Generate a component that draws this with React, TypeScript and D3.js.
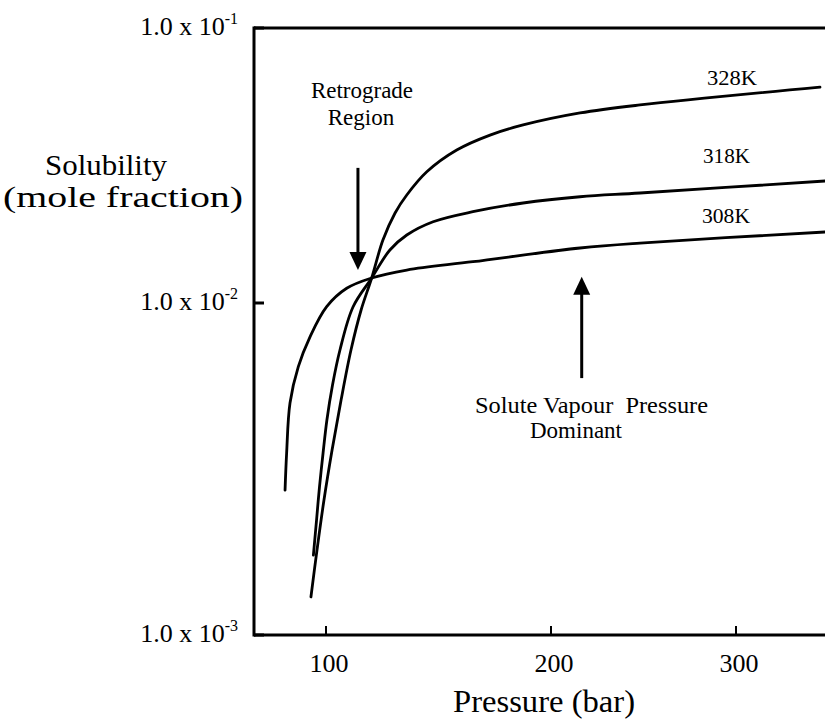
import React from "react";
import * as d3 from "d3";

const WIDTH = 825;
const HEIGHT = 719;
const FONT = "'Liberation Serif', 'Times New Roman', serif";

// axis ticks
const xTicks = [100, 200, 300];
const yTicks = [1e-3, 1e-2, 1e-1];
const yTickExp = ["-3", "-2", "-1"];

// series (pressure in bar, solubility as mole fraction)
const p308 = [81.8, 82.5, 84.0, 87.7, 92.9, 100.3, 109.2, 120.3, 135.9, 165.3, 215.7, 248.1, 348.1];
const s308 = [2.73e-3, 3.53e-3, 5.0e-3, 6.43e-3, 7.91e-3, 9.75e-3, 1.131e-2, 1.233e-2, 1.318e-2, 1.413e-2, 1.585e-2, 1.652e-2, 1.812e-2];

const p318 = [94.4, 95.8, 97.1, 98.7, 100.4, 102.9, 106.2, 112.0, 120.3, 128.4, 135.9, 147.6, 165.3, 187.6, 215.7, 248.1, 348.1];
const s318 = [1.741e-3, 2.22e-3, 2.791e-3, 3.533e-3, 4.443e-3, 5.662e-3, 7.217e-3, 9.727e-3, 1.233e-2, 1.559e-2, 1.767e-2, 1.975e-2, 2.148e-2, 2.31e-2, 2.434e-2, 2.512e-2, 2.777e-2];

const p328 = [93.3, 96.0, 99.1, 102.7, 106.7, 111.1, 115.6, 120.3, 125.3, 130.7, 135.9, 144.8, 158.1, 172.9, 187.6, 215.7, 248.1, 345.4];
const s328 = [1.302e-3, 1.803e-3, 2.55e-3, 3.607e-3, 5.101e-3, 7.217e-3, 9.526e-3, 1.233e-2, 1.694e-2, 2.125e-2, 2.47e-2, 3.0e-2, 3.6e-2, 4.08e-2, 4.44e-2, 4.91e-2, 5.25e-2, 6.1e-2];

const seriesNames = ["308K", "318K", "328K"];

// annotation arrows: [pressure, solubility at tail, solubility at tip]
const arrowRetro = [114.2, 3.1e-2, 1.318e-2];
const arrowVapour = [216.6, 5.94e-3, 1.247e-2];

// the scan is a bit distorted, so the scales are piecewise
const xScale = d3.scaleLinear().domain([100, 200, 300]).range([326, 551, 736]);
const yScale = d3.scaleLog().domain([1e-3, 1e-2, 1e-1]).range([635, 303, 28]);

const X0 = 254;
const Y0 = yScale(1e-3);
const Y1 = yScale(1e-1);

const line = d3
  .line<[number, number]>()
  .x((d) => xScale(d[0]))
  .y((d) => yScale(d[1]))
  .curve(d3.curveCatmullRom.alpha(0.5));

const zip = (a: number[], b: number[]) => a.map((v, i) => [v, b[i]] as [number, number]);

const Arrow = ({ a }: { a: number[] }) => {
  const x = xScale(a[0]);
  const yTail = yScale(a[1]);
  const yTip = yScale(a[2]);
  const dir = yTip > yTail ? 1 : -1;
  const headH = 18;
  const headW = 8.5;
  return (
    <g>
      <line x1={x} x2={x} y1={yTail} y2={yTip - dir * headH + dir} stroke="#000" strokeWidth={3} />
      <path
        d={`M${x},${yTip} L${x - headW},${yTip - dir * headH} L${x + headW},${yTip - dir * headH} Z`}
        fill="#000"
      />
    </g>
  );
};

export default function App() {
  const series = [zip(p308, s308), zip(p318, s318), zip(p328, s328)];
  return (
    <div style={{ position: "absolute", left: 0, top: 0 }}>
      <svg width={WIDTH} height={HEIGHT} style={{ display: "block", background: "#fff" }} fontFamily={FONT}>
        <defs>
          <clipPath id="plot">
            <rect x={X0} y={Y1} width={WIDTH - X0} height={Y0 - Y1} />
          </clipPath>
        </defs>

        {/* curves */}
        <g clipPath="url(#plot)">
          {series.map((s, i) => (
            <path key={seriesNames[i]} d={line(s) || ""} fill="none" stroke="#000" strokeWidth={2.8} strokeLinecap="round" />
          ))}
        </g>

        {/* frame */}
        <line x1={X0} x2={WIDTH} y1={Y1} y2={Y1} stroke="#000" strokeWidth={3} />
        <line x1={X0} x2={X0} y1={Y1 - 1.5} y2={Y0 + 1.5} stroke="#000" strokeWidth={3} />
        <line x1={X0} x2={WIDTH} y1={Y0} y2={Y0} stroke="#000" strokeWidth={3} />

        {/* x ticks */}
        {xTicks.map((t) => (
          <g key={t}>
            <line x1={xScale(t)} x2={xScale(t)} y1={Y0} y2={Y0 - 9} stroke="#000" strokeWidth={2} />
            <text x={xScale(t) + 3} y={672} textAnchor="middle" fontSize={26}>
              {t}
            </text>
          </g>
        ))}

        {/* y ticks */}
        {yTicks.map((t, i) => (
          <g key={t}>
            <line x1={X0} x2={X0 + 10} y1={yScale(t)} y2={yScale(t)} stroke="#000" strokeWidth={3} />
            <text x={238} y={yScale(t) + 7} textAnchor="end" fontSize={26}>
              1.0 x 10
              <tspan fontSize={16} dy={-11}>
                {yTickExp[i]}
              </tspan>
            </text>
          </g>
        ))}

        {/* axis titles */}
        <text x={453} y={712} fontSize={31} textLength={182} lengthAdjust="spacingAndGlyphs">
          Pressure (bar)
        </text>
        <text x={45} y={175} fontSize={29} textLength={122} lengthAdjust="spacingAndGlyphs">
          Solubility
        </text>
        <text x={3} y={207} fontSize={30} textLength={240} lengthAdjust="spacingAndGlyphs">
          (mole fraction)
        </text>

        {/* series labels */}
        <text x={707} y={85} fontSize={21} textLength={50} lengthAdjust="spacingAndGlyphs">
          {seriesNames[2]}
        </text>
        <text x={703} y={163} fontSize={21} textLength={47} lengthAdjust="spacingAndGlyphs">
          {seriesNames[1]}
        </text>
        <text x={702} y={223} fontSize={21} textLength={48} lengthAdjust="spacingAndGlyphs">
          {seriesNames[0]}
        </text>

        {/* annotations */}
        <text x={362} y={98} fontSize={23} textAnchor="middle">
          Retrograde
        </text>
        <text x={361} y={125} fontSize={23} textAnchor="middle">
          Region
        </text>
        <Arrow a={arrowRetro} />

        <text x={475} y={413} fontSize={23} textLength={233} lengthAdjust="spacingAndGlyphs" style={{ whiteSpace: "pre" }}>
          {"Solute Vapour  Pressure"}
        </text>
        <text x={576} y={438} fontSize={23} textAnchor="middle">
          Dominant
        </text>
        <Arrow a={arrowVapour} />
      </svg>
    </div>
  );
}
